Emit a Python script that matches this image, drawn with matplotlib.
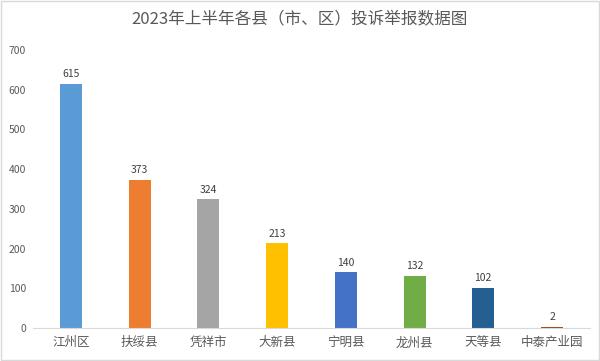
import matplotlib.pyplot as plt
from matplotlib.patches import Rectangle

plt.rcParams['font.family'] = ['Noto Sans CJK SC', 'DejaVu Sans']

# 各县（市、区）投诉举报数量
regions = ['江州区', '扶绥县', '凭祥市', '大新县', '宁明县', '龙州县', '天等县', '中泰产业园']
counts = [615, 373, 324, 213, 140, 132, 102, 2]
colors = ['#5B9BD5', '#ED7D31', '#A5A5A5', '#FFC000', '#4472C4', '#70AD47', '#255E91', '#9E480E']

fig = plt.figure(figsize=(6, 3.61), dpi=100)
ax = fig.add_axes([0.055, 0.0914, 0.928, 0.770])

x = range(len(regions))
bars = ax.bar(x, counts, width=0.32, color=colors)
for i, v in enumerate(counts):
    ax.text(i, v + 12, str(v), ha='center', va='bottom', fontsize=7.5, color='#404040')

ax.set_ylim(0, 700)
ax.set_xlim(-0.55, len(regions) - 0.45)
ax.set_yticks(range(0, 701, 100))
ax.set_xticks(list(x))
ax.set_xticklabels(regions, fontsize=9, color='#595959')
ax.tick_params(axis='y', labelsize=7.5, labelcolor='#595959', length=0, pad=5)
ax.tick_params(axis='x', length=0, pad=6)
for s in ['top', 'right', 'left']:
    ax.spines[s].set_visible(False)
ax.spines['bottom'].set_color('#D9D9D9')

fig.text(0.5, 0.945, '2023年上半年各县（市、区）投诉举报数据图', ha='center', va='center',
         fontsize=12, color='#595959')
fig.patches.append(Rectangle((0.002, 0.003), 0.996, 0.994, transform=fig.transFigure,
                             fill=False, edgecolor='#D9D9D9', linewidth=1))

fig.savefig('out.png', dpi=100)
